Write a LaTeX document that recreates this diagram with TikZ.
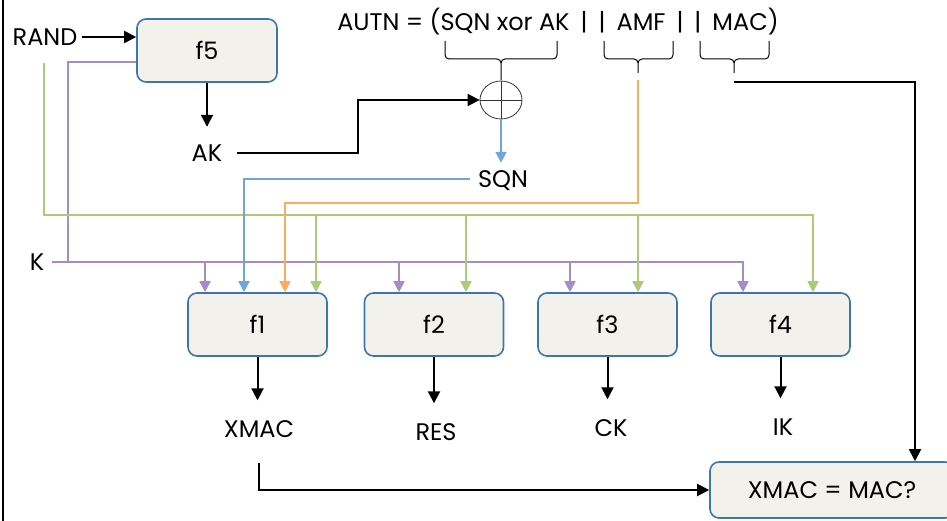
\documentclass[tikz,border=0pt]{standalone}
\usepackage{fontspec}
\setmainfont{Poppins}
\usetikzlibrary{arrows.meta,shapes.geometric}
\tikzset{>={Triangle[width=12pt,length=12pt]}}
\definecolor{boxblue}{HTML}{3C76AC}
\definecolor{boxfill}{HTML}{F2F1EB}
\definecolor{kpurple}{HTML}{A58BC7}
\definecolor{sqnblue}{HTML}{6FA5DA}
\definecolor{amforange}{HTML}{FCAC5E}
\definecolor{randgreen}{HTML}{ADC979}

\begin{document}
\begin{tikzpicture}[x=1pt,y=-1pt,
  fbox/.style={draw=boxblue,fill=boxfill,line width=1.6pt,rounded corners=9pt,
    minimum width=139pt,minimum height=63pt},
  lbl/.style={inner sep=0pt,text height=17pt,text depth=0pt},
  wire/.style={line width=2pt},
  kline/.style={kpurple,line width=1.8pt,>={Triangle[width=11pt,length=11pt]}},
  gline/.style={randgreen,line width=1.8pt,>={Triangle[width=11pt,length=11pt]}},
  sline/.style={sqnblue,line width=1.8pt,>={Triangle[width=11pt,length=11pt]}},
  aline/.style={amforange,line width=1.8pt,>={Triangle[width=11pt,length=11pt]}}]

  \fontsize{24}{28}\selectfont

  \useasboundingbox (0,0) rectangle (947,521);
  \clip (0,0) rectangle (947,521);

  \newcommand\autnbrace[4]{%
    \draw[line width=1pt,rounded corners=4pt] (#1,41) |- (#2,59) -- (#2,#4)
      (#3,41) |- (#2,59) -- (#2,#4);}
  \newcommand\gap{\hspace{11pt}}

  % frame edge
  \draw[line width=2.5pt] (3,0) -- (3,521);

  % function boxes
  \node[fbox,minimum width=140pt] (f5) at (207,50.5) {f5};
  \node[fbox] (f1) at (257.5,324.5) {f1};
  \node[fbox] (f2) at (434,324.5) {f2};
  \node[fbox] (f3) at (607.5,324.5) {f3};
  \node[fbox] (f4) at (780.5,324.5) {f4};
  \node[fbox,minimum width=244pt,minimum height=56pt] (chk) at (832,490) {XMAC = MAC?};

  % labels
  \node[lbl] (RAND) at (45,37) {RAND};
  \node[lbl] (AK) at (207,153) {AK};
  \node[lbl] (SQN) at (503,179) {SQN};
  \node[lbl] (K) at (37,262) {K};
  \node[lbl] (XMAC) at (259,429) {XMAC};
  \node[lbl] (RES) at (436,432) {RES};
  \node[lbl] (CK) at (611,428) {CK};
  \node[lbl] (IK) at (783,427) {IK};
  \node[lbl] (AUTN) at (558,22)
    {AUTN = (SQN xor AK\gap|\gap|\gap AMF\gap|\gap|\gap MAC)};

  % xor
  \node[ellipse,draw=black!80,line width=0.8pt,minimum width=42pt,
    minimum height=38pt,inner sep=0pt] (xor) at (501,100) {};
  \draw[black!80,line width=0.8pt] (xor.north) -- (xor.south) (xor.west) -- (xor.east);

  % braces under AUTN
  \autnbrace{445}{501}{557}{80}
  \autnbrace{604}{638}{673}{73}
  \autnbrace{700}{734}{769}{73}
  \coordinate (amf) at (638,80);
  \coordinate (mac) at (734,82);

  % input points on the boxes
  \foreach \b/\k/\g in {f1/-52.5/58.5,f2/-35/32,f3/-37.5/30.5,f4/-37.5/32.5}{
    \coordinate (\b-k) at ([xshift=\k pt]\b.north);
    \coordinate (\b-g) at ([xshift=\g pt]\b.north);
  }
  \coordinate (f1-s) at ([xshift=-13.5pt]f1.north);
  \coordinate (f1-a) at ([xshift=27.5pt]f1.north);
  \coordinate (gsrc) at (44,63);

  % f5 and xor
  \draw[wire,->,shorten <=4pt] (RAND.east) -- (RAND.east -| f5.west);
  \draw[wire,->,shorten >=17.5pt] (f5.south) -- (f5.south |- AK.north);
  \draw[wire,->,shorten <=15pt] (AK.east) -- (AK.east -| 358,0) |- (xor.west);
  \draw[sline,->,shorten >=7.5pt] (xor.south) -- (xor.south |- SQN.north);

  % K
  \draw[kline,->,shorten <=8pt] (K.east) -| (f4-k);
  \foreach \b in {f1,f2,f3} \draw[kline,->] (\b-k |- K) -- (\b-k);
  \draw[kline] (K -| 68,0) |- ([yshift=-11.5pt]f5.west);

  % RAND
  \draw[gline,->] (gsrc) -- (gsrc |- 0,215) -| (f4-g);
  \foreach \b in {f1,f2,f3} \draw[gline,->] (\b-g |- 0,215) -- (\b-g);

  % SQN and AMF
  \draw[sline,->,shorten <=8pt] (SQN.west) -| (f1-s);
  \draw[aline,->] (amf) -- (amf |- 0,203) -| (f1-a);

  % outputs
  \foreach \b/\o in {f1/XMAC,f2/RES,f3/CK,f4/IK}
    \draw[wire,->,shorten >=20pt] (\b.south) -- (\b.south |- \o.north);

  % check
  \draw[wire,->] (mac) -| ([xshift=83pt]chk.north);
  \draw[wire,->] (XMAC.south) ++(0,25) |- (chk.west);

\end{tikzpicture}
\end{document}
